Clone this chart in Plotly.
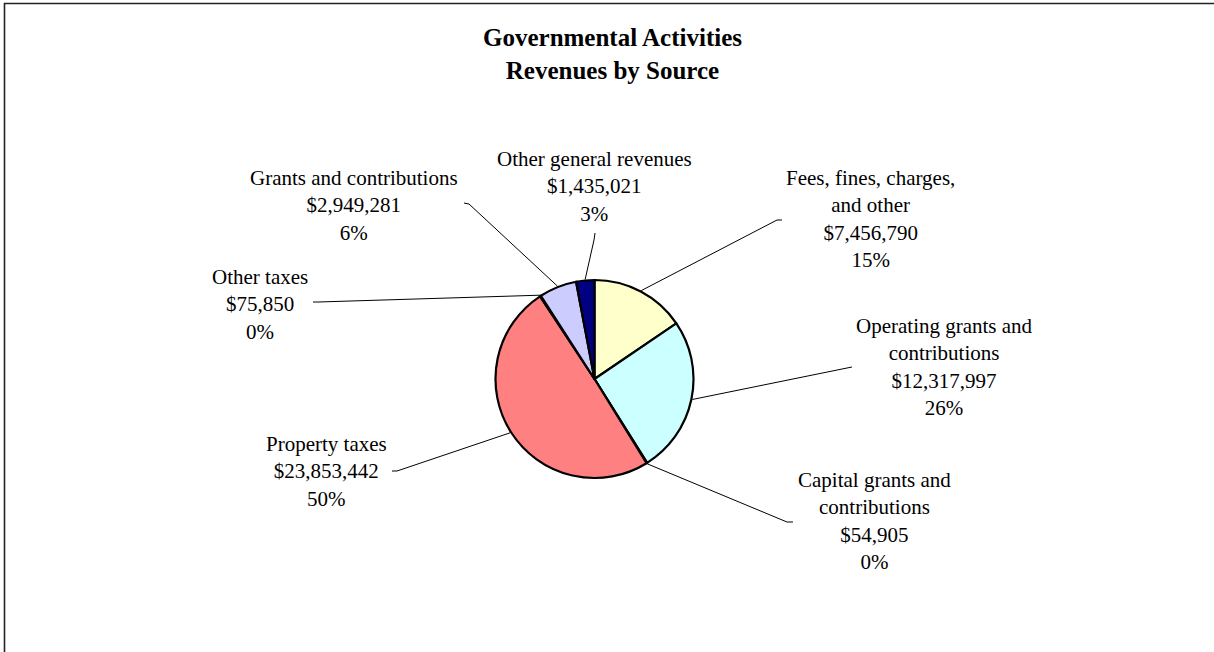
import math
import plotly.graph_objects as go

# ---- data ----
categories = [
    "Fees, fines, charges,<br>and other",
    "Operating grants and<br>contributions",
    "Capital grants and<br>contributions",
    "Property taxes",
    "Other taxes",
    "Grants and contributions",
    "Other general revenues",
]
values = [7456790, 12317997, 54905, 23853442, 75850, 2949281, 1435021]
colors = ["#FFFFCC", "#CCFFFF", "#660066", "#FF8080", "#0066CC", "#CCCCFF", "#000080"]
title_lines = ["Governmental Activities", "Revenues by Source"]

# ---- layout constants (pixels) ----
W, H = 1214, 652
CX, CY, R = 594.5, 379.0, 99.0
# label centre (x, y) and leader start / elbow (pixels)
label_pos = [(871, 219), (944, 367), (874, 521), (326, 471), (260, 304), (354, 205), (594, 186)]
leader_start = [(782, 220), (852, 367), (793, 522), (392, 471), (313, 302), (464, 203), (595, 233)]
leader_elbow = [(777, 220), (847, 368), (787, 522), (397, 471), (318, 302), (469, 204), (594, 240)]

FONT = "Liberation Serif, Times New Roman, serif"


def px(x):
    return x / W


def py(y):
    return 1 - y / H


total = sum(values)
fig = go.Figure(
    go.Pie(
        labels=categories,
        values=values,
        sort=False,
        direction="clockwise",
        rotation=0,
        marker=dict(colors=colors, line=dict(color="black", width=2.2)),
        textinfo="none",
        hoverinfo="skip",
        showlegend=False,
        domain=dict(x=[px(CX - R), px(CX + R)], y=[py(CY + R), py(CY - R)]),
    )
)

annotations = []
shapes = []
cum = 0.0
for i, v in enumerate(values):
    frac = v / total
    mid = (cum + frac / 2) * 2 * math.pi
    cum += frac
    ex = CX + (R + 1) * math.sin(mid)
    ey = CY - (R + 1) * math.cos(mid)
    pct = f"{round(frac * 100):.0f}%"
    text = f"{categories[i]}<br>${v:,.0f}<br>{pct}"
    lx, ly = label_pos[i]
    annotations.append(
        dict(
            x=px(lx), y=py(ly), xref="paper", yref="paper",
            text=text, showarrow=False, xanchor="center", yanchor="middle",
            align="center", font=dict(family=FONT, size=21, color="black"),
        )
    )
    sx, sy = leader_start[i]
    bx, by = leader_elbow[i]
    shapes.append(
        dict(
            type="path", xref="paper", yref="paper",
            path=f"M {px(sx)},{py(sy)} L {px(bx)},{py(by)} L {px(ex)},{py(ey)}",
            line=dict(color="black", width=1),
        )
    )

annotations.append(
    dict(
        x=px(612), y=py(54), xref="paper", yref="paper",
        text="<b>" + "<br>".join(title_lines) + "</b>", showarrow=False,
        xanchor="center", yanchor="middle", align="center",
        font=dict(family=FONT, size=25, color="black"),
    )
)

# outer chart-area border (extends beyond the window on right and bottom)
shapes.append(
    dict(
        type="rect", xref="paper", yref="paper",
        x0=px(4.5), x1=1.02, y0=-0.02, y1=py(3.5),
        line=dict(color="#222222", width=1.6), fillcolor="rgba(0,0,0,0)",
    )
)

fig.update_layout(
    width=W, height=H,
    margin=dict(l=0, r=0, t=0, b=0),
    paper_bgcolor="white", plot_bgcolor="white",
    annotations=annotations, shapes=shapes,
)

fig.write_html(
    "out.html",
    config={"displayModeBar": False},
    post_script="document.body.style.margin='0';",
)
